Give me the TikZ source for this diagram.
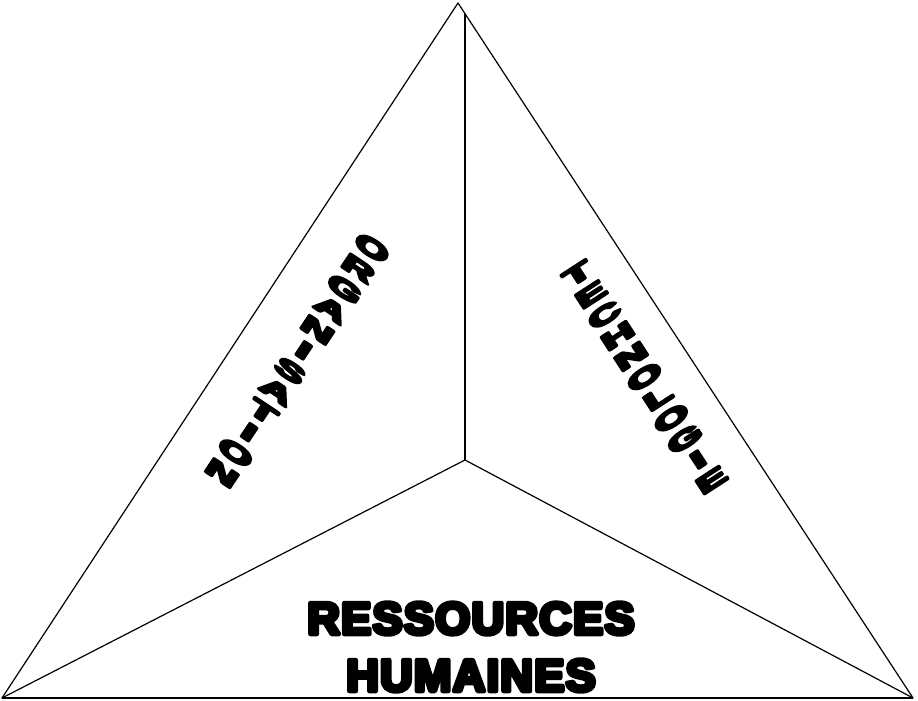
\documentclass[tikz,border=0pt]{standalone}
\usepackage{fontspec}
\newfontfamily\heavyfont[FakeBold=10, LetterSpace=3]{Liberation Sans Bold}
\usepackage{tikz}
\usetikzlibrary{calc}

\begin{document}
\begin{tikzpicture}[x=1pt, y=1pt,
    edge/.style={line width=1.2pt, line cap=round, line join=round},
    base/.style={line width=2pt},
    column/.style={inner sep=0pt, align=center, line join=round, yscale=0.5, font=\heavyfont\fontsize{47}{49.2}\selectfont},
    title/.style={inner sep=0pt, anchor=base, line join=round, font=\heavyfont\fontsize{45}{45}\selectfont}]
    \useasboundingbox (0,0) rectangle (918,701);

    % corners of the triangle and the middle point
    \coordinate (apex) at (458,698);
    \coordinate (left) at (2,3);
    \coordinate (right) at (913,3);
    \coordinate (mid) at (465,241);
    \coordinate (up) at (465,687);

    \draw[edge] (left) -- (apex) -- (right);
    \draw[base] (left) -- (right);
    \draw[edge] (mid) -- (up);
    \draw[edge] (mid) -- (left);
    \draw[edge] (mid) -- (right);

    % left column
    \coordinate (orgtop) at (372,453);
    \coordinate (orgbot) at (222,228);
    \node[rotate=-33.7, column] (org) at ($(orgtop)!0.5!(orgbot)$)
        {O\\R\\G\\A\\N\\I\\S\\A\\T\\I\\O\\N};

    % right column
    \coordinate (techtop) at (576,430);
    \coordinate (techbot) at (713,218);
    \node[rotate=33, column] (tech) at ($(techtop)!0.5!(techbot)$)
        {T\\E\\C\\H\\N\\O\\L\\O\\G\\I\\E};

    % bottom part
    \node[title] (res) at (471,67) {RESSOURCES};
    \node[title] (hum) at (471,10) {HUMAINES};
\end{tikzpicture}
\end{document}
